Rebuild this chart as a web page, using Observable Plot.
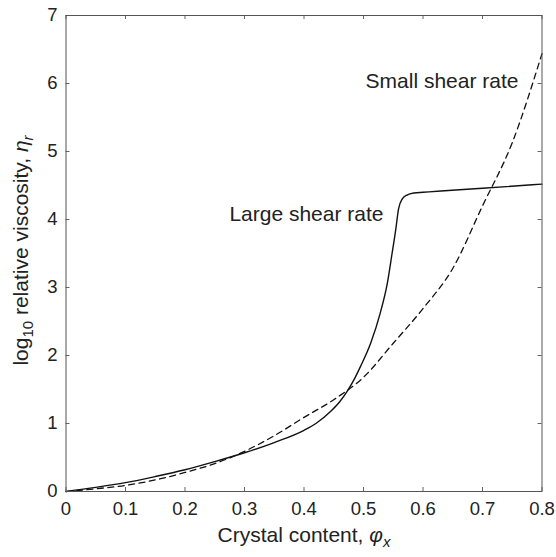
<!DOCTYPE html>
<html><head><meta charset="utf-8">
<script src="https://cdn.jsdelivr.net/npm/d3@7"></script>
<script src="https://cdn.jsdelivr.net/npm/@observablehq/plot@0.6"></script>
<style>html,body{margin:0;padding:0;background:#fff}#chart svg{display:block}</style>
</head><body><div id="chart"></div>
<script>
// Large shear rate (solid)
const phiLarge = [0, 0.05, 0.1, 0.15, 0.2, 0.25, 0.3, 0.35, 0.4, 0.42, 0.445, 0.46, 0.473, 0.485, 0.495, 0.512, 0.528, 0.54, 0.548, 0.554, 0.559, 0.565, 0.573, 0.585, 0.6, 0.63, 0.7, 0.8];
const etaLarge = [0, 0.06, 0.13, 0.22, 0.32, 0.44, 0.57, 0.72, 0.90, 1.0, 1.18, 1.32, 1.48, 1.66, 1.84, 2.18, 2.62, 3.06, 3.50, 3.84, 4.16, 4.30, 4.36, 4.39, 4.40, 4.42, 4.46, 4.52];
// Small shear rate (dashed)
const phiSmall = [0, 0.05, 0.1, 0.15, 0.2, 0.25, 0.3, 0.35, 0.4, 0.45, 0.5, 0.55, 0.6, 0.65, 0.7, 0.75, 0.8];
const etaSmall = [0, 0.04, 0.09, 0.17, 0.28, 0.41, 0.59, 0.82, 1.09, 1.35, 1.68, 2.18, 2.69, 3.28, 4.2, 5.13, 6.44];

const xTicks = [0, 0.1, 0.2, 0.3, 0.4, 0.5, 0.6, 0.7, 0.8];
const yTicks = [0, 1, 2, 3, 4, 5, 6, 7];
const curveLabels = ["Large shear rate", "Small shear rate"];
const xLabel = "Crystal content, φx";
const yLabel = "log10 relative viscosity, ηr";

const large = phiLarge.map((x, i) => ({x, y: etaLarge[i]}));
const small = phiSmall.map((x, i) => ({x, y: etaSmall[i]}));

const W = 556, H = 557, mL = 65.5, mR = 14.5, mT = 15, mB = 66;
const pw = W - mL - mR, ph = H - mT - mB;
const ink = "#222";

const plot = Plot.plot({
  width: W, height: H,
  marginLeft: mL, marginRight: mR, marginTop: mT, marginBottom: mB,
  style: {fontFamily: "'Liberation Sans', Arial, Helvetica, sans-serif", background: "#fff", color: ink},
  x: {domain: [0, 0.8]},
  y: {domain: [0, 7]},
  marks: [
    Plot.line(small, {x: "x", y: "y", curve: "monotone-x", stroke: "#111", strokeWidth: 1.3, strokeDasharray: "6,4.5"}),
    Plot.line(large, {x: "x", y: "y", curve: "monotone-x", stroke: "#111", strokeWidth: 1.4}),
    Plot.tickX(xTicks, {x: d => d, insetTop: ph - 4, stroke: "#666"}),
    Plot.tickX(xTicks, {x: d => d, insetBottom: ph - 4, stroke: "#666"}),
    Plot.tickY(yTicks, {y: d => d, insetRight: pw - 4, stroke: "#666"}),
    Plot.tickY(yTicks, {y: d => d, insetLeft: pw - 4, stroke: "#666"}),
    Plot.frame({stroke: "#555"}),
    Plot.axisX(xTicks, {tickSize: 0, tickPadding: 10, fontSize: 18.5, label: null, fill: ink, tickFormat: d => String(d)}),
    Plot.axisY(yTicks, {tickSize: 0, tickPadding: 8.5, fontSize: 18.5, label: null, fill: ink, tickFormat: d => String(d)}),
    Plot.text([curveLabels[0]], {x: 0.5336, y: 3.975, text: d => d, textAnchor: "end", lineAnchor: "bottom", fontSize: 21, fill: ink}),
    Plot.text([curveLabels[1]], {x: 0.7605, y: 5.94, text: d => d, textAnchor: "end", lineAnchor: "bottom", fontSize: 21, fill: ink}),
    Plot.text([xLabel], {text: d => d, frameAnchor: "bottom", textAnchor: "middle", dy: 50, lineAnchor: "bottom", fontSize: 21, fill: ink}),
    Plot.text([yLabel], {text: d => d, frameAnchor: "left", textAnchor: "middle", rotate: -90, dx: -38.5, dy: -3, lineAnchor: "bottom", fontSize: 21, fill: ink})
  ]
});

d3.select(plot).selectAll("text").each(function () {
  const t = this.textContent;
  if (t === xLabel) {
    d3.select(this).html('Crystal content, <tspan font-style="italic">φ</tspan><tspan dy="5" font-size="15" font-style="italic">x</tspan>');
  } else if (t === yLabel) {
    d3.select(this).html('log<tspan dy="5" font-size="15">10</tspan><tspan dy="-5"> relative viscosity, </tspan><tspan font-style="italic">η</tspan><tspan dy="5" font-size="15" font-style="italic">r</tspan>');
  }
});

document.getElementById("chart").append(plot);
</script>
</body></html>
